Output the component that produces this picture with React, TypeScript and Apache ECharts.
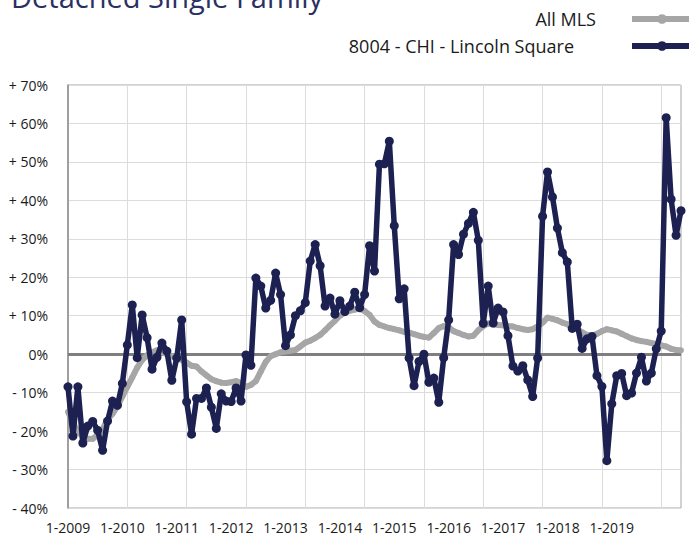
import React, { useEffect, useRef } from "react";
import * as echarts from "echarts";

const startYear = 2009;
const monthCount = 125;
const categories: string[] = [];
for (let i = 0; i < monthCount; i++) {
  const y = startYear + Math.floor(i / 12);
  const m = (i % 12) + 1;
  categories.push(`${m}-${y}`);
}

const tickLabels = [
  "1-2009", "1-2010", "1-2011", "1-2012", "1-2013", "1-2014",
  "1-2015", "1-2016", "1-2017", "1-2018", "1-2019",
];

const allMLS = [
  -15, -18, -20, -21.5, -22, -22, -21, -19.5, -17, -15.5, -13.5, -11,
  -8.5, -6, -3.5, -1.5, -0.3, 0.5, 1, 0.5, 0, -0.5, -1, -1.5,
  -2.2, -3, -3.2, -4.5, -5.5, -6.5, -7, -7.4, -7.5, -7.3, -7, -7.5,
  -8.5, -8, -7, -4.5, -2, -0.5, 0, 0.5, 0.7, 0.9, 1.1, 2,
  3, 3.5, 4.2, 5, 6.2, 7.5, 8.7, 10, 10.8, 11.3, 11.6, 11.8,
  11.2, 10.2, 8.5, 7.6, 7.2, 6.8, 6.5, 6.2, 5.8, 5.6, 5.2, 4.8,
  4.5, 4.3, 5.5, 6.8, 7.3, 7, 6, 5.5, 5, 4.6, 4.8, 6.2,
  7.3, 8, 7.8, 7.6, 7.5, 7.3, 7.2, 6.8, 6.5, 6.3, 6.5, 7.2,
  8.2, 9.5, 9.2, 8.8, 8.2, 7.8, 7, 6.5, 5.7, 5, 4.8, 5.3,
  6, 6.5, 6.2, 5.9, 5.3, 4.7, 4.1, 3.7, 3.4, 3.2, 2.9, 2.6,
  2.3, 2, 1.4, 1.1, 1.0,
];

const lincolnSquare = [
  -8.5, -21.3, -8.5, -23.1, -18.7, -17.5, -19.8, -25, -17.4, -12.2, -13.3, -7.6,
  2.4, 12.8, -0.9, 10.2, 4.3, -3.9, -0.8, 2.9, 0.8, -6.8, -1, 8.9,
  -12.4, -20.8, -11.5, -11.5, -8.8, -13.8, -19.3, -10.3, -12.2, -12.3, -8.8, -12.2,
  -0.2, -2.9, 19.8, 17.7, 12.0, 14.0, 21.1, 15.5, 2.2, 5, 10, 11.3,
  13.4, 24.2, 28.5, 23, 12.5, 14.6, 10.4, 13.9, 11.1, 12.5, 16.1, 12.1,
  15.5, 28.2, 21.6, 49.4, 49.5, 55.4, 33.4, 14.4, 17.0, -1, -8.2, -1.9,
  0, -7.3, -6.2, -12.5, -0.9, 8.9, 28.5, 25.9, 31.2, 34, 36.9, 29.6,
  8.0, 17.7, 8.1, 12.0, 11.0, 4.8, -3.1, -4.4, -3.0, -6.7, -11, -1.0,
  35.9, 47.4, 40.9, 32.8, 26.4, 24.0, 6.7, 7.8, 1.5, 4.0, 4.6, -5.6,
  -8.4, -27.7, -12.9, -5.6, -5.0, -10.8, -10.1, -4.9, -0.8, -7.0, -4.9, 1.4,
  6.0, 61.5, 40.3, 30.9, 37.3,
];

const FONT = "'Open Sans', 'Noto Sans', sans-serif";

export default function App() {
  const ref = useRef<HTMLDivElement>(null);
  useEffect(() => {
    if (!ref.current) return;
    const chart = echarts.init(ref.current, undefined, { renderer: "svg" });
    chart.setOption({
      animation: false,
      backgroundColor: "#ffffff",
      graphic: [
        {
          type: "text",
          left: 11,
          top: -18,
          style: {
            text: "Detached Single Family",
            font: `29px ${FONT}`,
            fill: "#2b2f63",
          },
        },
      ],
      legend: {
        orient: "vertical",
        align: "right",
        right: -6,
        top: 10,
        padding: 0,
        itemWidth: 60,
        itemHeight: 12,
        itemGap: 9,
        lineStyle: { width: 6 },
        textStyle: { fontFamily: FONT, fontSize: 18, color: "#1a1a1a" },
        data: [
          { name: "All MLS", textStyle: { padding: [0, 31, 0, 0] } },
          { name: "8004 - CHI - Lincoln Square", textStyle: { padding: [0, 53, 0, 0] } },
        ],
      },
      grid: {
        left: 68,
        right: 8,
        top: 85,
        bottom: 29,
        show: true,
        borderColor: "#a6a6a6",
        borderWidth: 1,
      },
      xAxis: {
        type: "category",
        data: categories,
        boundaryGap: false,
        axisLine: { show: true, lineStyle: { color: "#999999", width: 1 } },
        axisTick: { show: false },
        axisLabel: {
          interval: 10,
          margin: 12,
          fontFamily: FONT,
          fontSize: 14,
          color: "#1a1a1a",
          formatter: (_v: string, idx: number) =>
            idx % 11 === 0 && tickLabels[idx / 11] ? tickLabels[idx / 11] : "",
        },
        splitLine: {
          show: true,
          interval: 11,
          lineStyle: { color: "#dcdcdc", width: 1 },
        },
      },
      yAxis: {
        type: "value",
        min: -40,
        max: 70,
        interval: 10,
        axisLine: { show: true, lineStyle: { color: "#8c8c8c", width: 1.5 } },
        axisTick: { show: false },
        axisLabel: {
          margin: 20,
          fontFamily: FONT,
          fontSize: 14,
          color: "#1a1a1a",
          formatter: (v: number) =>
            v > 0 ? `+ ${v}%` : v < 0 ? `- ${-v}%` : "0%",
        },
        splitLine: { show: true, lineStyle: { color: "#dcdcdc", width: 1 } },
      },
      series: [
        {
          name: "All MLS",
          type: "line",
          data: allMLS,
          z: 3,
          symbol: "circle",
          symbolSize: 6,
          showAllSymbol: true,
          itemStyle: { color: "#a6a6a6" },
          lineStyle: { color: "#a6a6a6", width: 6 },
          markLine: {
            silent: true,
            symbol: "none",
            label: { show: false },
            lineStyle: { color: "#7f7f7f", width: 3, type: "solid" },
            data: [{ yAxis: 0 }],
            z: 1,
          },
        },
        {
          name: "8004 - CHI - Lincoln Square",
          type: "line",
          data: lincolnSquare,
          z: 4,
          symbol: "circle",
          symbolSize: 9,
          showAllSymbol: true,
          itemStyle: { color: "#1c2152" },
          lineStyle: { color: "#1c2152", width: 5.5 },
        },
      ],
    });
    return () => chart.dispose();
  }, []);
  return (
    <div
      ref={ref}
      style={{ position: "fixed", left: 0, top: 0, width: 689, height: 537 }}
    />
  );
}
